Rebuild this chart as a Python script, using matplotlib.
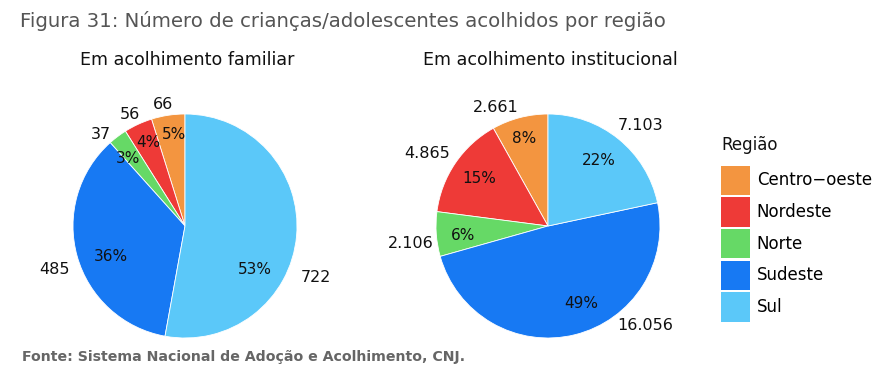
import numpy as np
import matplotlib
matplotlib.use("Agg")
import matplotlib.pyplot as plt
from matplotlib.patches import Patch

plt.rcParams['font.family'] = ['DejaVu Sans']

regions = ["Centro\u2212oeste", "Nordeste", "Norte", "Sudeste", "Sul"]
familiar = [66, 56, 37, 485, 722]
institucional = [2661, 4865, 2106, 16056, 7103]
colors = ["#F39540", "#EE3A37", "#66D966", "#1779F3", "#5BC8F9"]
subtitles = ["Em acolhimento familiar", "Em acolhimento institucional"]
title = "Figura 31: Número de crianças/adolescentes acolhidos por região"
source = "Fonte: Sistema Nacional de Adoção e Acolhimento, CNJ."
legend_title = "Região"

# label placement (angle in degrees, distance in radius units) -- layout only
pct_pos = [
    [(96.9, 0.82), (113.8, 0.81), (130.0, 0.79), (202.3, 0.72), (-31.7, 0.735)],
    [(105.3, 0.81), (145.2, 0.75), (186.7, 0.76), (-66.9, 0.75), (52.4, 0.74)],
]
val_pos = [
    [(100.4, 1.10), (116.2, 1.11), (132.3, 1.11), (198.3, 1.23), (-21.3, 1.255)],
    [(113.7, 1.16), (149.0, 1.26), (187.4, 1.24), (-45.6, 1.24), (47.5, 1.22)],
]

W, H = 896, 380
fig = plt.figure(figsize=(W/100, H/100), dpi=100)

def fmt(v):
    return f"{v:,}".replace(",", ".")

centers = [(185, 226), (548, 226)]
r = 112
for i, ((cx, cy), data, sub) in enumerate(zip(centers, [familiar, institucional], subtitles)):
    ax = fig.add_axes([(cx - r)/W, (H - cy - r)/H, 2*r/W, 2*r/H])
    wedges, texts, autotexts = ax.pie(
        data, colors=colors, startangle=90, counterclock=True,
        labels=[fmt(v) for v in data], labeldistance=1.22,
        autopct=lambda p: f"{p:.0f}%", pctdistance=0.73,
        wedgeprops=dict(edgecolor="white", linewidth=0.6),
        textprops=dict(fontsize=11.5, color="#111111"))
    for t, (a, d) in zip(autotexts, pct_pos[i]):
        t.set_position((d*np.cos(np.radians(a)), d*np.sin(np.radians(a))))
        t.set_ha("center"); t.set_va("center"); t.set_fontsize(11)
    for t, (a, d) in zip(texts, val_pos[i]):
        t.set_position((d*np.cos(np.radians(a)), d*np.sin(np.radians(a))))
        t.set_ha("center"); t.set_va("center")
    ax.set_xlim(-1, 1)
    ax.set_ylim(-1, 1)
    ax.set_aspect("equal")
    fig.text(cx/W + 2/W, 1 - 60/H, sub, ha="center", va="center", fontsize=12.6, color="#111111")

fig.text(20/W, 1 - 21/H, title, ha="left", va="center", fontsize=14.2, color="#555555")
fig.text(22/W, 1 - 357/H, source, ha="left", va="center", fontsize=10.2, color="#666666", fontweight="bold")

fig.text(721/W, 1 - 145/H, legend_title, ha="left", va="center", fontsize=12, color="#111111")
handles = [Patch(facecolor=c, edgecolor="none") for c in colors]
leg = fig.legend(handles, regions, loc="upper left",
                 bbox_to_anchor=(714/W, 1 - 159/H), frameon=False,
                 fontsize=12,
                 handlelength=1.74, handleheight=2.33, labelspacing=0.14,
                 handletextpad=0.42, borderaxespad=0)

fig.savefig("out.png", dpi=100)
